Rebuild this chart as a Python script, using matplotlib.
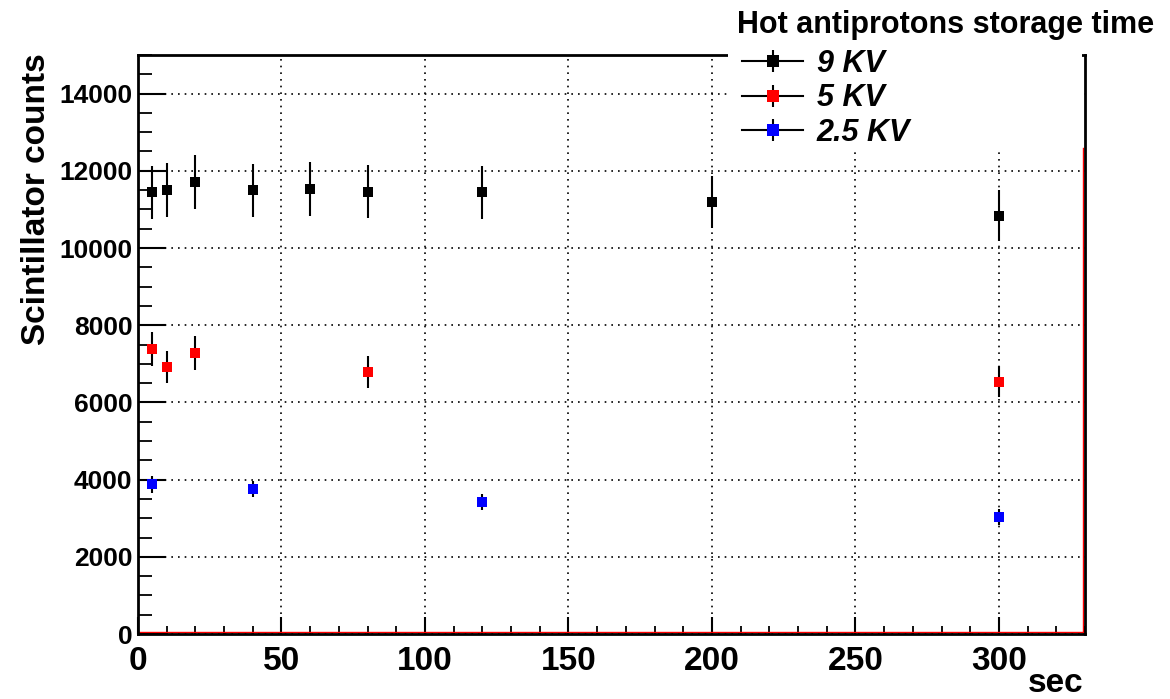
import matplotlib
matplotlib.use("Agg")
import matplotlib.pyplot as plt
import matplotlib.transforms as mtransforms
from matplotlib.lines import Line2D
from matplotlib.patches import Rectangle
from matplotlib.ticker import MultipleLocator

plt.rcParams["font.family"] = ["Liberation Sans", "DejaVu Sans"]
plt.rcParams["font.weight"] = "bold"

# storage time (sec) and scintillator counts per trap voltage
time_9kv = [5, 10, 20, 40, 60, 80, 120, 200, 300]
counts_9kv = [11440, 11510, 11720, 11490, 11540, 11460, 11440, 11200, 10840]
err_9kv = [690, 700, 700, 690, 700, 690, 690, 670, 660]

time_5kv = [5, 10, 20, 80, 300]
counts_5kv = [7380, 6920, 7290, 6790, 6540]
err_5kv = [440, 420, 440, 420, 400]

time_2kv = [5, 40, 120, 300]
counts_2kv = [3880, 3750, 3415, 3030]
err_2kv = [220, 210, 210, 200]

labels = ["9 KV", "5 KV", "2.5 KV"]
colors = ["black", "red", "blue"]

x_max = 330
y_max = 15000
red_frame_top = 12600


def main():
    fig = plt.figure(figsize=(11.7, 6.99), dpi=100)
    ax = fig.add_axes([138 / 1170, 1 - 634 / 699, (1085 - 138) / 1170, (634 - 55) / 699])

    series = [
        (time_9kv, counts_9kv, err_9kv),
        (time_5kv, counts_5kv, err_5kv),
        (time_2kv, counts_2kv, err_2kv),
    ]
    for (x, y, e), c in zip(series, colors):
        ax.errorbar(x, y, yerr=e, fmt="s", color=c, ecolor="black", markersize=7.5,
                    elinewidth=1.5, capsize=5, capthick=1.5, markeredgewidth=0, zorder=4)

    ax.set_xlim(0, x_max)
    ax.set_ylim(0, y_max)
    ax.xaxis.set_major_locator(MultipleLocator(50))
    ax.xaxis.set_minor_locator(MultipleLocator(10))
    ax.yaxis.set_major_locator(MultipleLocator(2000))
    ax.yaxis.set_minor_locator(MultipleLocator(500))

    ax.grid(True, which="major", color="black", linestyle=(0, (1, 3)), linewidth=1.2, zorder=1)
    ax.set_axisbelow(True)

    ax.tick_params(axis="x", which="major", direction="in", length=12.5, width=1.5,
                   labelsize=24, pad=9)
    ax.tick_params(axis="x", which="minor", direction="in", length=5.5, width=1.3)
    ax.tick_params(axis="y", which="major", direction="in", length=20, width=1.5,
                   labelsize=19, pad=4)
    ax.tick_params(axis="y", which="minor", direction="in", length=10, width=1.3)
    for lab in ax.get_xticklabels() + ax.get_yticklabels():
        lab.set_fontweight("bold")

    for s in ax.spines.values():
        s.set_linewidth(2)
        s.set_zorder(5)

    # thin red frame line just inside the bottom and right edge
    up = mtransforms.offset_copy(ax.transData, fig=fig, x=0, y=1.6, units="points")
    left = mtransforms.offset_copy(ax.transData, fig=fig, x=-1.6, y=0, units="points")
    ax.plot([0, x_max], [0, 0], color="red", linewidth=1, transform=up,
            clip_on=False, zorder=4.5)
    ax.plot([x_max, x_max], [0, red_frame_top], color="red", linewidth=1, transform=left,
            clip_on=False, zorder=4.5)

    # white box behind the legend hides the top frame and grid there
    ax.add_patch(Rectangle((728 / 1170, 1 - 150 / 699), (1082 - 728) / 1170, 102 / 699,
                           transform=fig.transFigure, facecolor="white",
                           edgecolor="none", zorder=7, clip_on=False))

    handles = []
    for c in colors:
        hline = Line2D([], [], color="black", linewidth=1.5)
        vbar = Line2D([], [], color="black", marker="|", markersize=16,
                      markeredgewidth=1.5, linestyle="none")
        mark = Line2D([], [], color=c, marker="s", markersize=8, linestyle="none",
                      markeredgewidth=0)
        handles.append((hline, vbar, mark))
    leg = ax.legend(handles, labels, loc="upper left",
                    bbox_to_anchor=(742 / 1170, 1 - 49 / 699),
                    bbox_transform=fig.transFigure, frameon=False, borderpad=0,
                    borderaxespad=0, handlelength=2.0, handletextpad=0.45,
                    labelspacing=0.14,
                    prop={"size": 22, "weight": "bold", "style": "italic"})
    leg.set_zorder(8)

    fig.text(946 / 1170, 1 - 25 / 699, "Hot antiprotons storage time", ha="center",
             va="center", fontsize=22, fontweight="bold")
    fig.text(37 / 1170, 1 - 53 / 699, "Scintillator counts", rotation=90, ha="center",
             va="top", fontsize=24, fontweight="bold")
    fig.text(1083 / 1170, 1 - 684 / 699, "sec", ha="right", va="center", fontsize=24,
             fontweight="bold")

    fig.savefig("out.png", dpi=100)


if __name__ == "__main__":
    main()
